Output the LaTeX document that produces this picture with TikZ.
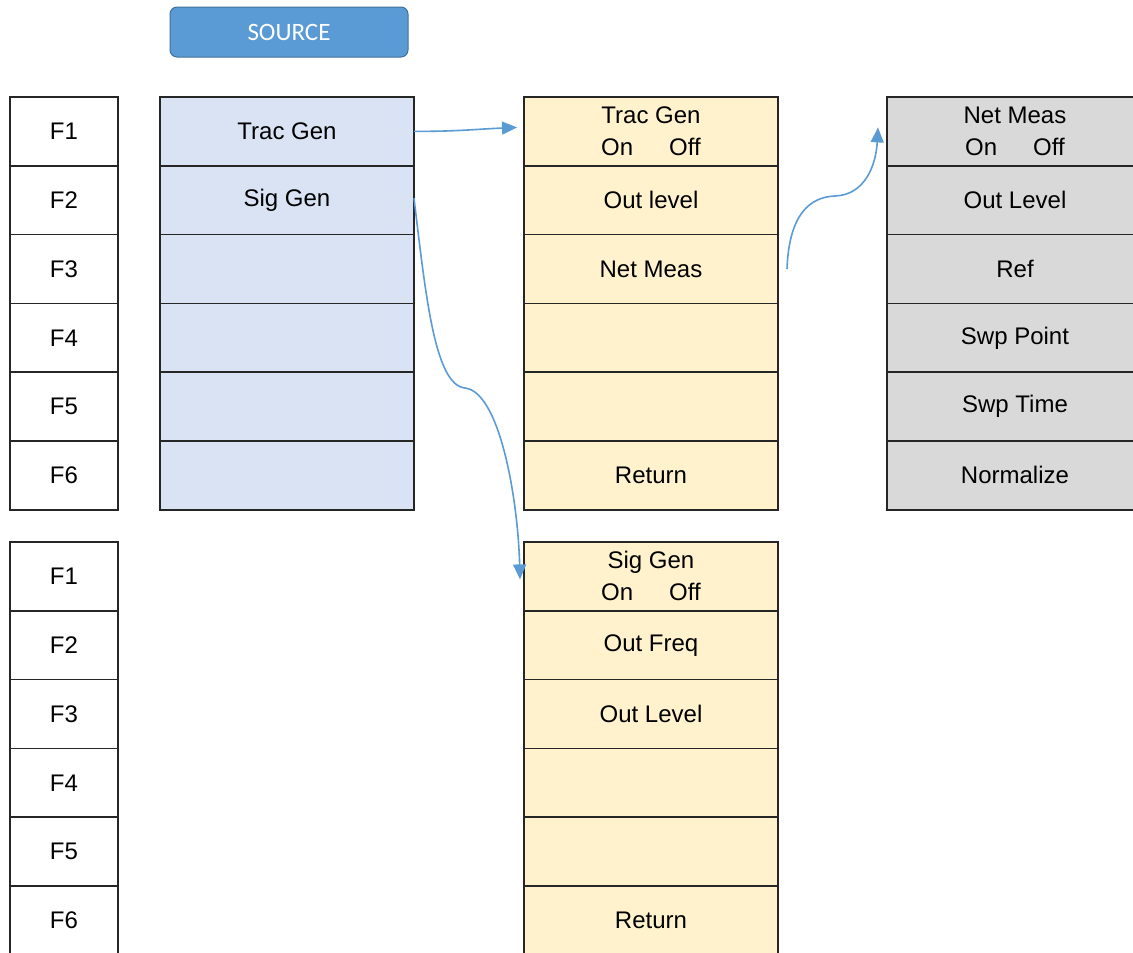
\documentclass[tikz,border=0pt]{standalone}
\usepackage{fontspec}
\setmainfont{Liberation Sans}
\newfontfamily\arialfont{Liberation Sans}
\newfontfamily\calib{Carlito}
\usetikzlibrary{arrows.meta}
\definecolor{srcblue}{HTML}{5B9BD5}
\definecolor{srcedge}{HTML}{41719C}
\definecolor{cellblue}{HTML}{DAE3F3}
\definecolor{cellyellow}{HTML}{FFF2CC}
\definecolor{cellgray}{HTML}{D9D9D9}
\definecolor{edge}{HTML}{262626}
\tikzset{
  cell/.style={draw=edge, line width=1.6pt, minimum height=68.8pt, inner sep=0pt, outer sep=0pt,
    font=\arialfont\fontsize{24}{32}\selectfont, align=center, text=black},
  fcell/.style={cell, fill=white, minimum width=108pt},
  bcell/.style={cell, fill=cellblue, minimum width=254pt},
  ycell/.style={cell, fill=cellyellow, minimum width=254pt},
  gcell/.style={cell, fill=cellgray, minimum width=254pt},
  link/.style={draw=srcblue, line width=1.6pt, -{Triangle[length=15pt,width=13pt]}},
}
\begin{document}
\begin{tikzpicture}[x=1pt,y=-1pt]
\useasboundingbox (0,0) rectangle (1133,953);
\begin{scope}
\clip (0,0) rectangle (1133,953);
\node[draw=srcedge, line width=1pt, fill=srcblue, rounded corners=7pt, minimum width=238pt, minimum height=50pt,
  font=\calib\fontsize{25}{30}\selectfont, text=white] (source) at (289,32) {SOURCE};
% F columns
\foreach \i in {1,...,6} {
  \node[fcell] (fa\i) at (64,{97+68.8*(\i-0.5)}) {F\i};
  \node[fcell] (fb\i) at (64,{542+68.8*(\i-0.5)}) {F\i};
}
% blue column
\foreach \i/\t in {1/Trac Gen,2/Sig Gen,3/,4/,5/,6/} {
  \node[bcell] (b\i) at (287,{97+68.8*(\i-0.5)}) {\t};
}
% yellow upper
\foreach \i/\t in {1/{Trac Gen\\On\hspace{36pt}Off},2/Out level,3/Net Meas,4/,5/,6/Return} {
  \node[ycell] (y\i) at (651,{97+68.8*(\i-0.5)}) {\t};
}
% gray column
\foreach \i/\t in {1/{Net Meas\\On\hspace{36pt}Off},2/Out Level,3/Ref,4/Swp Point,5/Swp Time,6/Normalize} {
  \node[gcell, minimum width=256pt] (g\i) at (1015,{97+68.8*(\i-0.5)}) {\t};
}
% yellow lower
\foreach \i/\t in {1/{Sig Gen\\On\hspace{36pt}Off},2/Out Freq,3/Out Level,4/,5/,6/Return} {
  \node[ycell] (s\i) at (651,{542+68.8*(\i-0.5)}) {\t};
}
\end{scope}
% connectors
\draw[link] (b1.east) .. controls +(45,0) and +(-45,2) .. ([xshift=-7pt,yshift=4pt]y1.west);
\coordinate (m1) at (465,388);
\draw[link] ([yshift=2pt]b2.east) .. controls +(12,100) and (435,385) .. (m1)
  .. controls (500,392) and (518,500) .. ([xshift=-4pt,yshift=-3pt]s1.west);
\coordinate (m2) at (835,196);
\draw[link] ([xshift=9pt,yshift=0pt]y3.east) .. controls +(2,-55) and (810,197) .. (m2)
  .. controls (865,195) and (876,165) .. ([xshift=-9pt,yshift=4pt]g1.west);
\end{tikzpicture}
\end{document}
